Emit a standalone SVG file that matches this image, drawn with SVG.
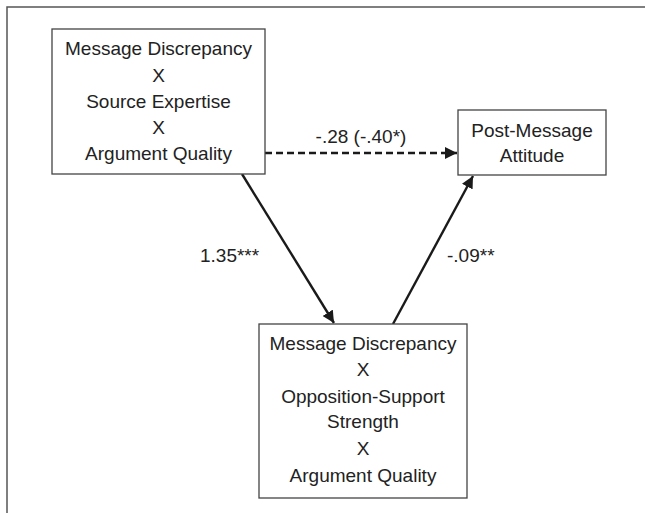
<svg xmlns="http://www.w3.org/2000/svg" width="645" height="513" viewBox="0 0 645 513">
<style>
.box{fill:#fff;stroke:#444;stroke-width:1.3}
.t{font-family:"Liberation Sans",Arial,sans-serif;font-size:19px;fill:#222;text-anchor:middle}
.s{text-anchor:start}
.c{stroke:#1a1a1a;stroke-width:2.4;fill:none}
</style>
<defs>
<marker id="ah" viewBox="0 0 10 10" refX="10" refY="5" markerWidth="5" markerHeight="5" orient="auto" markerUnits="strokeWidth">
<path d="M0,0 L10,5 L0,10 z" fill="#1a1a1a"/>
</marker>
</defs>
<rect width="645" height="513" fill="#fff"/>
<path d="M7,513 V7 H645" fill="none" stroke="#555" stroke-width="1.5"/>
<g id="connectors">
<line class="c" x1="265" y1="153" x2="457" y2="153" stroke-dasharray="7,4" marker-end="url(#ah)"/>
<line class="c" x1="242" y1="174" x2="334" y2="323" marker-end="url(#ah)"/>
<line class="c" x1="393" y1="324" x2="473" y2="176" marker-end="url(#ah)"/>
<text class="t" x="361" y="143">-.28 (-.40*)</text>
<text class="t s" x="200" y="262">1.35***</text>
<text class="t s" x="447" y="262">-.09**</text>
</g>
<g id="node-top">
<rect class="box" x="52" y="29" width="213" height="145"/>
<text class="t" x="158.5" y="55">Message Discrepancy</text>
<text class="t" x="158.5" y="82">X</text>
<text class="t" x="158.5" y="108">Source Expertise</text>
<text class="t" x="158.5" y="134">X</text>
<text class="t" x="158.5" y="160">Argument Quality</text>
</g>
<g id="node-post">
<rect class="box" x="458" y="110" width="148" height="65"/>
<text class="t" x="532" y="137">Post-Message</text>
<text class="t" x="532" y="162">Attitude</text>
</g>
<g id="node-bottom">
<rect class="box" x="259" y="324" width="208" height="174"/>
<text class="t" x="363" y="350">Message Discrepancy</text>
<text class="t" x="363" y="376">X</text>
<text class="t" x="363" y="403">Opposition-Support</text>
<text class="t" x="363" y="428">Strength</text>
<text class="t" x="363" y="455">X</text>
<text class="t" x="363" y="482">Argument Quality</text>
</g>
</svg>
